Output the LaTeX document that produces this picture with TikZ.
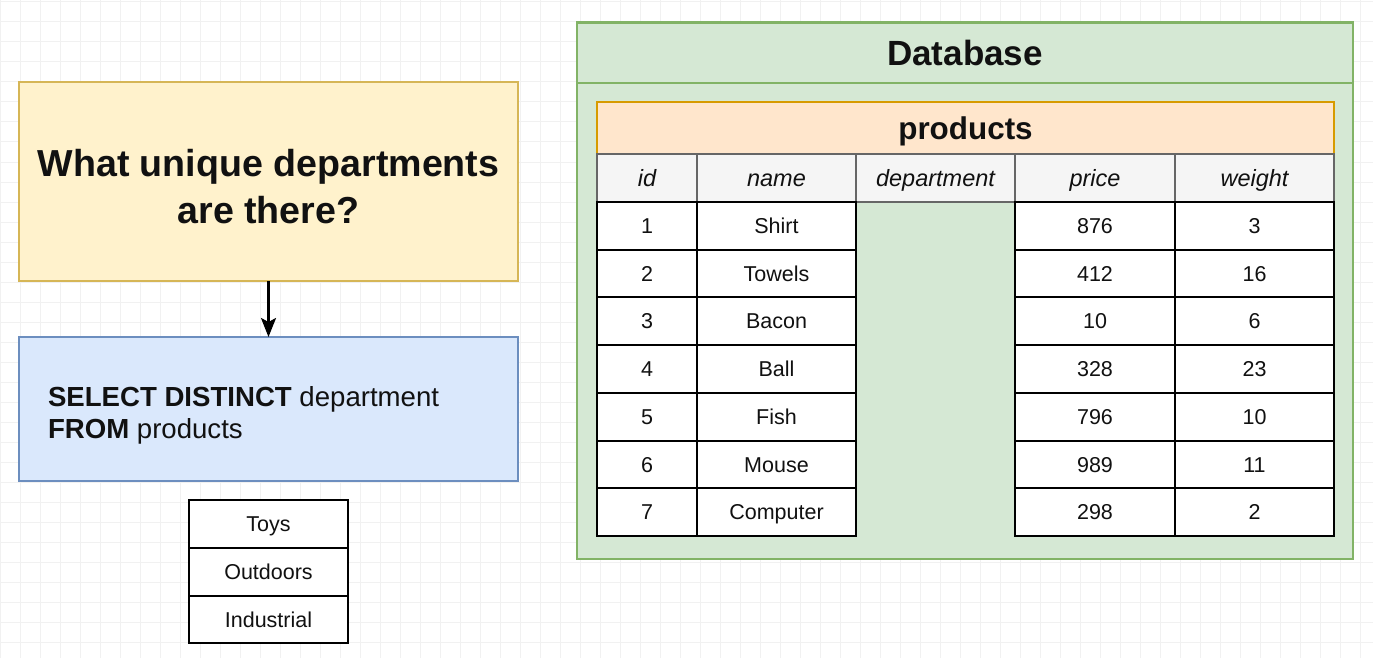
\documentclass[tikz,border=0pt]{standalone}
\usepackage{fontspec}
\setmainfont{Liberation Sans}
\usetikzlibrary{arrows.meta}
\definecolor{gridc}{HTML}{F1F1F1}
\definecolor{yfill}{HTML}{FFF2CC}
\definecolor{ydraw}{HTML}{D6B656}
\definecolor{bfill}{HTML}{DAE8FC}
\definecolor{bdraw}{HTML}{6C8EBF}
\definecolor{gfill}{HTML}{D5E8D4}
\definecolor{gdraw}{HTML}{82B366}
\definecolor{ofill}{HTML}{FFE6CC}
\definecolor{odraw}{HTML}{D79B00}
\definecolor{hfill}{HTML}{F5F5F5}
\definecolor{hdraw}{HTML}{666666}
\definecolor{txt}{HTML}{111111}
\tikzset{
  panel/.style={draw, line width=1.5pt, inner sep=0pt, outer sep=0pt, text=txt},
  cell/.style={draw=black, fill=white, line width=2pt, inner sep=0pt, outer sep=0pt,
    text height=15.4pt, text depth=0pt,
    minimum height=47.714pt, text=txt, font=\fontsize{21.5}{26}\selectfont},
  rcell/.style={cell, minimum width=159pt, minimum height=47.67pt},
  hcell/.style={draw=hdraw, fill=hfill, line width=1.5pt, inner sep=0pt, outer sep=0pt,
    text height=16.8pt, text depth=0pt,
    minimum height=48pt, text=txt, font=\fontsize{23.5}{28}\selectfont\itshape},
  label/.style={inner sep=0pt, outer sep=0pt, text=txt},
}
\begin{document}
\begin{tikzpicture}[x=1pt,y=-1pt]
\useasboundingbox (0,0) rectangle (1373,658);
\fill[white] (0,0) rectangle (1373,658);
\foreach \x in {0,20,...,1372} \draw[gridc, line width=1pt] (\x,0) -- (\x,658);
\foreach \y in {2,22,...,657} \draw[gridc, line width=1pt] (0,\y) -- (1373,\y);

% left side
\node[panel, draw=ydraw, fill=yfill, minimum width=499pt, minimum height=199pt] (q) at (268.5,181.5) {};
\node[label, align=center, font=\fontsize{37.6}{47}\selectfont\bfseries] (qt) at (268.5,186.5)
  {What unique departments\\are there?};
\node[panel, draw=bdraw, fill=bfill, minimum width=499pt, minimum height=144pt] (sql) at (268.5,409) {};
\node[label, anchor=west, align=left, font=\fontsize{27.6}{32}\selectfont] (sqlt) at (48,415)
  {\textbf{SELECT DISTINCT} department\\\textbf{FROM} products};
\draw[line width=2.5pt, -{Stealth[length=19pt,width=15pt,inset=4pt]}] (q.south) -- (sql.north);

\node[rcell] (r1) at (268.5,524) {Toys};
\node[rcell] (r2) at (268.5,572) {Outdoors};
\node[rcell] (r3) at (268.5,619.5) {Industrial};

% database
\node[panel, draw=gdraw, fill=gfill, minimum width=776pt, minimum height=537pt] (db) at (965,290.5) {};
\node[panel, draw=gdraw, fill=gfill, minimum width=776pt, minimum height=60pt,
  text height=25pt, text depth=0pt,
  font=\fontsize{35}{40}\selectfont\bfseries] (dbt) at (965,53) {Database};
\node[panel, draw=odraw, fill=ofill, minimum width=737pt, minimum height=52pt,
  text height=22.5pt, text depth=0pt,
  font=\fontsize{31.4}{36}\selectfont\bfseries] (pt) at (965.5,128) {products};

\node[hcell, minimum width=100pt] (hid) at (647,178) {id};
\node[hcell, minimum width=159pt] (hname) at (776.5,178) {name};
\node[hcell, minimum width=159pt] (hdep) at (935.5,178) {department};
\node[hcell, minimum width=160pt] (hprice) at (1095,178) {price};
\node[hcell, minimum width=159pt] (hweight) at (1254.5,178) {weight};

\foreach \id/\nm/\pr/\wt [count=\i from 0] in {1/Shirt/876/3, 2/Towels/412/16,
  3/Bacon/10/6, 4/Ball/328/23, 5/Fish/796/10, 6/Mouse/989/11, 7/Computer/298/2} {
  \pgfmathsetmacro\yc{225.857+\i*47.714}
  \node[cell, minimum width=100pt] (id\id) at (647,\yc) {\id};
  \node[cell, minimum width=159pt] (nm\id) at (776.5,\yc) {\nm};
  \node[cell, minimum width=160pt] (pr\id) at (1095,\yc) {\pr};
  \node[cell, minimum width=159pt] (wt\id) at (1254.5,\yc) {\wt};
}
\end{tikzpicture}
\end{document}
